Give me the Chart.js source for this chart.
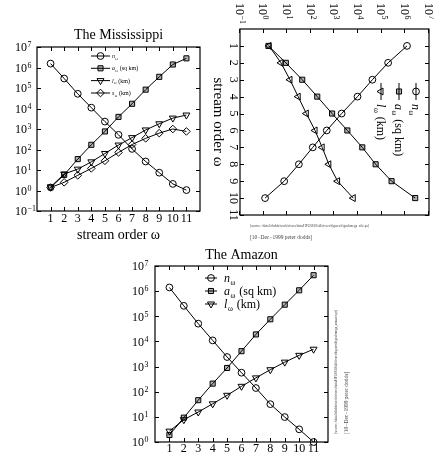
<!DOCTYPE html>
<html>
<head>
<meta charset="utf-8">
<script src="https://cdn.jsdelivr.net/npm/chart.js@4/dist/chart.umd.min.js"></script>
<style>
  html, body { margin: 0; padding: 0; background: #fff; }
  body { width: 434px; height: 455px; position: relative; overflow: hidden; }
  .panel { position: absolute; }
  canvas { display: block; }
  .stamp { position: absolute; font-family: "Liberation Serif", "Times New Roman", serif; color: #444;
           white-space: nowrap; transform-origin: 0 0; }
</style>
</head>
<body>
<div class="panel" style="left:0;top:0;"><canvas id="miss" width="220" height="250"></canvas></div>
<div class="panel" style="left:212px;top:0;transform-origin:0 0;transform:translate(222px,0) rotate(90deg);">
  <canvas id="third" width="220" height="222"></canvas>
</div>
<div class="panel" style="left:110px;top:240px;"><canvas id="amazon" width="250" height="215"></canvas></div>

<div class="stamp" style="left:250px;top:224px;font-size:10px;transform:scale(0.34);">[source: /data1/dodds/work/rivers/data/HPG0818/all/rivers/figures/figsubmega_nile.ps]</div>
<div class="stamp" style="left:250px;top:234px;font-size:10px;transform:scale(0.55);">[10&minus;Dec&minus;1999 peter dodds]</div>
<div class="stamp" style="left:334px;top:434px;font-size:10px;transform:rotate(-90deg) scale(0.34);">[source: /data1/dodds/work/rivers/data/HPG0818/all/rivers/figures/figsubmega_amazon.ps]</div>
<div class="stamp" style="left:343px;top:434px;font-size:10px;transform:rotate(-90deg) scale(0.55);">[10&minus;Dec&minus;1999 peter dodds]</div>

<script>
// Horton ratios data: stream order omega vs number of streams, mean area and mean length
const orders11 = [1, 2, 3, 4, 5, 6, 7, 8, 9, 10, 11];
const orders10 = [1, 2, 3, 4, 5, 6, 7, 8, 9, 10];
const streamTicks = [1, 2, 3, 4, 5, 6, 7, 8, 9, 10, 11];
const decadesWide = [-1, 0, 1, 2, 3, 4, 5, 6, 7];
const decadesAmazon = [0, 1, 2, 3, 4, 5, 6, 7];

// Mississippi
const missN = [1.55e6, 2.9e5, 5.2e4, 1.1e4, 2.3e3, 520, 107, 26, 7.4, 2.1, 1.05];
const missA = [1.4, 5.8, 34, 170, 760, 3.9e3, 1.7e4, 8.3e4, 3.5e5, 1.4e6, 2.8e6];
const missL = [1.5, 6.4, 11, 25, 64, 165, 380, 900, 1.8e3, 3.4e3, 4.8e3];
const missS = [1.4, 2.5, 5.5, 12, 28, 72, 175, 350, 630, 1000, 760];

// Rotated panel
const thirdN = [1.17e6, 1.86e5, 4.0e4, 9.4e3, 2.0e3, 470, 120, 31, 7.4, 1.15];
const thirdA = [1.6, 8.7, 43, 186, 790, 3.5e3, 1.5e4, 5.5e4, 2.6e5, 2.6e6];
const thirdL = [1.7, 5.4, 13, 29, 64, 150, 300, 575, 1.35e3, 6.2e3];

// Amazon
const amazonN = [1.4e6, 2.6e5, 5.1e4, 1.1e4, 2.4e3, 570, 140, 32, 9.8, 3.2, 1];
const amazonA = [1.9, 9.3, 46, 210, 880, 4.1e3, 1.9e4, 7.6e4, 2.9e5, 1.08e6, 4.3e6];
const amazonL = [2.7, 7.7, 15.6, 33, 72, 164, 355, 750, 1.5e3, 2.8e3, 4.9e3];

const SERIF = '"Liberation Serif", "Times New Roman", serif';

const markers = {
  n: { pointStyle: 'circle', rotation: 0, radius: 3.4, fill: 'rgba(0,0,0,0)' },
  a: { pointStyle: 'rect', rotation: 0, radius: 3.6, fill: 'rgba(0,0,0,0.3)' },
  l: { pointStyle: 'triangle', rotation: 180, radius: 4.0, fill: 'rgba(0,0,0,0)' },
  s: { pointStyle: 'rectRot', rotation: 0, radius: 3.8, fill: 'rgba(0,0,0,0)' }
};

function series(key, xs, ys, sym, unit) {
  const m = markers[key];
  return {
    label: sym + ' ' + unit,
    sym: sym, unit: unit, marker: m,
    data: ys.map((v, i) => ({ x: xs[i], y: v })),
    borderColor: '#000', borderWidth: 1, tension: 0, fill: false, clip: false,
    pointStyle: m.pointStyle, pointRotation: m.rotation, pointRadius: m.radius,
    pointBorderWidth: 1, pointBorderColor: '#000', pointBackgroundColor: m.fill
  };
}

function marker(ctx, m, x, y) {
  ctx.fillStyle = m.fill; ctx.strokeStyle = '#000'; ctx.lineWidth = 1;
  if (Chart.helpers && Chart.helpers.drawPoint) {
    Chart.helpers.drawPoint(ctx, { pointStyle: m.pointStyle, rotation: m.rotation, radius: m.radius, borderWidth: 1 }, x, y);
  } else {
    ctx.beginPath(); ctx.arc(x, y, m.radius, 0, Math.PI * 2); ctx.fill(); ctx.stroke();
  }
}

function subLabel(ctx, x, y, sym, rest, size) {
  ctx.textAlign = 'left'; ctx.textBaseline = 'alphabetic';
  const base = y + size * 0.32;
  ctx.font = 'italic ' + size + 'px ' + SERIF;
  ctx.fillText(sym, x, base);
  const w1 = ctx.measureText(sym).width;
  const sub = size * 0.62;
  ctx.font = sub + 'px ' + SERIF;
  ctx.fillText('\u03c9', x + w1 + size * 0.05, base + size * 0.28);
  const w2 = ctx.measureText('\u03c9').width;
  if (rest) {
    ctx.font = size + 'px ' + SERIF;
    ctx.fillText(' ' + rest, x + w1 + w2 + size * 0.12, base);
  }
}

const framePlugin = {
  id: 'frame',
  beforeDatasetsDraw(chart, args, o) {
    const { ctx, chartArea: a, scales: { x, y } } = chart;
    ctx.save();
    ctx.strokeStyle = '#000';
    ctx.lineWidth = 1.2;
    ctx.strokeRect(a.left, a.top, a.right - a.left, a.bottom - a.top);
    ctx.lineWidth = 1;
    ctx.beginPath();
    o.xTicks.forEach(v => {
      const px = Math.round(x.getPixelForValue(v)) + 0.5;
      ctx.moveTo(px, a.bottom); ctx.lineTo(px, a.bottom - o.tickLen);
      ctx.moveTo(px, a.top); ctx.lineTo(px, a.top + o.tickLen);
    });
    o.yExps.forEach(e => {
      const py = Math.round(y.getPixelForValue(Math.pow(10, e))) + 0.5;
      ctx.moveTo(a.left, py); ctx.lineTo(a.left + o.tickLen, py);
      ctx.moveTo(a.right, py); ctx.lineTo(a.right - o.tickLen, py);
    });
    ctx.stroke();
    ctx.restore();
  },
  afterDatasetsDraw(chart, args, o) {
    const { ctx, chartArea: a, scales: { x, y } } = chart;
    ctx.save();
    ctx.fillStyle = '#000';
    // decade labels 10^e
    o.yExps.forEach(e => {
      const py = y.getPixelForValue(Math.pow(10, e));
      const right = a.left - o.yGap;
      ctx.font = o.tickFont + 'px ' + SERIF;
      ctx.textAlign = 'right'; ctx.textBaseline = 'alphabetic';
      ctx.fillText('10', right, py + o.tickFont * 0.36);
      ctx.font = (o.tickFont * 0.66) + 'px ' + SERIF;
      ctx.textAlign = 'left';
      ctx.fillText(e < 0 ? '\u2212' + (-e) : String(e), right + 0.5, py + o.tickFont * 0.02);
    });
    // stream order labels
    ctx.font = o.tickFont + 'px ' + SERIF;
    ctx.textAlign = 'center'; ctx.textBaseline = 'middle';
    o.xTicks.forEach(v => ctx.fillText(String(v), x.getPixelForValue(v), a.bottom + o.xGap));
    if (o.xTitle) {
      ctx.font = o.xTitleFont + 'px ' + SERIF;
      ctx.fillText(o.xTitle, (a.left + a.right) / 2, a.bottom + o.xTitleGap);
    }
    if (o.title) {
      ctx.font = o.titleFont + 'px ' + SERIF;
      ctx.fillText(o.title, (a.left + a.right) / 2, a.top - o.titleGap);
    }
    // legend
    const L = o.legend;
    chart.data.datasets.forEach((ds, i) => {
      const ly = L.rows[i];
      ctx.strokeStyle = '#000'; ctx.lineWidth = 1;
      ctx.beginPath(); ctx.moveTo(L.x0, ly); ctx.lineTo(L.x1, ly); ctx.stroke();
      marker(ctx, ds.marker, (L.x0 + L.x1) / 2, ly);
      ctx.fillStyle = '#000';
      subLabel(ctx, L.tx, ly, ds.sym, ds.unit, L.font);
    });
    ctx.restore();
  }
};

function build(id, datasets, pad, xMax, yMin, yMax, frame) {
  return new Chart(document.getElementById(id), {
    type: 'line',
    data: { datasets: datasets },
    options: {
      responsive: false, animation: false, events: [],
      layout: { padding: pad },
      plugins: { legend: { display: false }, tooltip: { enabled: false }, frame: frame },
      scales: {
        x: { type: 'linear', display: false, min: 0, max: xMax },
        y: { type: 'logarithmic', display: false, min: yMin, max: yMax }
      }
    },
    plugins: [framePlugin]
  });
}

build('miss', [
  series('n', orders11, missN, 'n', ''),
  series('a', orders11, missA, 'a', '(sq km)'),
  series('l', orders11, missL, 'l', '(km)'),
  series('s', orders11, missS, 's', '(km)')
], { left: 37, right: 20, top: 47, bottom: 39 }, 12, 0.1, 1e7, {
  xTicks: streamTicks, yExps: decadesWide, tickLen: 4, tickFont: 12, yGap: 10, xGap: 8,
  xTitle: 'stream order \u03c9', xTitleFont: 14, xTitleGap: 24,
  title: 'The Mississippi', titleFont: 14, titleGap: 12,
  legend: { x0: 91, x1: 110, tx: 112, font: 6, rows: [56, 68.3, 80.6, 93] }
});

build('third', [
  series('n', orders10, thirdN, 'n', ''),
  series('a', orders10, thirdA, 'a', '(sq km)'),
  series('l', orders10, thirdL, 'l', '(km)')
], { left: 29, right: 4, top: 3, bottom: 28 }, 11, 0.1, 1e7, {
  xTicks: streamTicks, yExps: decadesWide, tickLen: 4, tickFont: 12, yGap: 14, xGap: 7,
  xTitle: 'stream order \u03c9', xTitleFont: 15, xTitleGap: 22,
  title: '', titleFont: 14, titleGap: 12,
  legend: { x0: 83, x1: 100, tx: 104, font: 12, rows: [18, 35, 53] }
});

build('amazon', [
  series('n', orders11, amazonN, 'n', ''),
  series('a', orders11, amazonA, 'a', '(sq km)'),
  series('l', orders11, amazonL, 'l', '(km)')
], { left: 45, right: 32, top: 26, bottom: 13 }, 12, 1, 1e7, {
  xTicks: streamTicks, yExps: decadesAmazon, tickLen: 4, tickFont: 12, yGap: 11, xGap: 7,
  xTitle: '', xTitleFont: 14, xTitleGap: 24,
  title: 'The Amazon', titleFont: 14, titleGap: 11,
  legend: { x0: 95, x1: 107, tx: 114, font: 12, rows: [38, 51, 64] }
});
</script>
</body>
</html>
